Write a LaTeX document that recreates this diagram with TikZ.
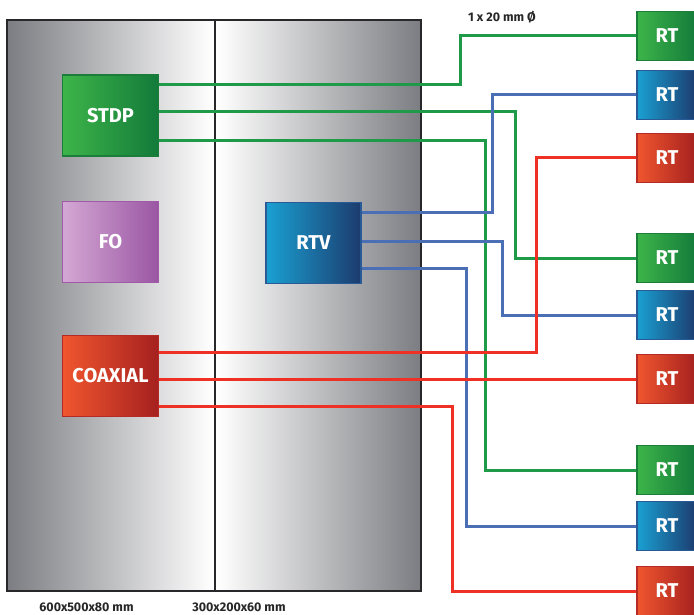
\documentclass[tikz,border=0pt]{standalone}
\usepackage{fontspec}
\setmainfont{Fira Sans}
\usepackage{tikz}
\usetikzlibrary{positioning}
\definecolor{cabgray}{RGB}{124,125,130}
\definecolor{cabedge}{RGB}{40,40,42}
\definecolor{greenlight}{RGB}{61,181,73}
\definecolor{greendark}{RGB}{19,122,58}
\definecolor{greenedge}{RGB}{27,125,58}
\definecolor{bluelight}{RGB}{26,160,210}
\definecolor{bluedark}{RGB}{28,59,110}
\definecolor{blueedge}{RGB}{42,90,150}
\definecolor{redlight}{RGB}{240,86,46}
\definecolor{reddark}{RGB}{165,32,31}
\definecolor{rededge}{RGB}{181,42,36}
\definecolor{purplelight}{RGB}{212,168,212}
\definecolor{purpledark}{RGB}{154,86,163}
\definecolor{purpleedge}{RGB}{160,90,168}
\definecolor{gwire}{RGB}{31,154,72}
\definecolor{bwire}{RGB}{74,111,181}
\definecolor{rwire}{RGB}{238,49,36}

\begin{document}
\begin{tikzpicture}[x=1pt,y=-1pt,
    box/.style={draw=#1edge,line width=1.2pt,left color=#1light,right color=#1dark,
      text=white,font=\fontsize{20}{24}\bfseries\selectfont,inner sep=0pt,
      minimum width=96pt,minimum height=81pt},
    rtbox/.style={box=#1,minimum width=60pt,minimum height=49pt},
    wire/.style={line width=3pt,#1},
    dim/.style={font=\fontsize{12.5}{15}\bfseries\selectfont,text=black!85}]
  \useasboundingbox (0,0) rectangle (694,615);
  \shade[left color=cabgray,right color=white] (7,20) rectangle (213,591);
  \shade[left color=white,right color=cabgray] (217,20) rectangle (421,591);
  \draw[line width=1.5pt,cabedge] (7,20) rectangle (421,591);
  \draw[line width=1.5pt,cabedge] (215,20) -- (215,591);
  \node[box=green] (stdp) at (110.5,115.5) {STDP};
  \node[box=purple] (fo) at (110.5,242) {FO};
  \node[box=red] (coax) at (110.5,376) {COAXIAL};
  \node[box=blue,minimum width=95pt] (rtv) at (313.5,243) {RTV};
  \node[rtbox=green] (rtA) at (667,36) {RT};
  \node[rtbox=blue] (rtB) at (667,95) {RT};
  \node[rtbox=red] (rtC) at (667,158) {RT};
  \node[rtbox=green] (rtD) at (667,258) {RT};
  \node[rtbox=blue] (rtE) at (667,315) {RT};
  \node[rtbox=red] (rtF) at (667,379) {RT};
  \node[rtbox=green] (rtG) at (667,470) {RT};
  \node[rtbox=blue] (rtH) at (667,526) {RT};
  \node[rtbox=red] (rtI) at (667,591) {RT};
  \draw[wire=gwire] ([yshift=30.5pt]stdp.east) -- ++(301,0) |- (rtA);
  \draw[wire=gwire] ([yshift=3.5pt]stdp.east) -- ++(356,0) |- (rtD);
  \draw[wire=gwire] ([yshift=-25.5pt]stdp.east) -- ++(326,0) |- (rtG);
  \draw[wire=bwire] ([yshift=30pt]rtv.east) -- ++(131,0) |- (rtB);
  \draw[wire=bwire] ([yshift=2pt]rtv.east) -- ++(141,0) |- (rtE);
  \draw[wire=bwire] ([yshift=-25pt]rtv.east) -- ++(105,0) |- (rtH);
  \draw[wire=rwire] ([yshift=24pt]coax.east) -- ++(377,0) |- (rtC);
  \draw[wire=rwire] ([yshift=-3pt]coax.east) -- (rtF);
  \draw[wire=rwire] ([yshift=-30pt]coax.east) -- ++(293,0) |- (rtI);
  \node[dim] (dia) at (502,17) {1 x 20 mm Ø};
  \node[dim] (dimA) at (86.5,607) {600x500x80 mm};
  \node[dim] (dimB) at (239,607) {300x200x60 mm};
\end{tikzpicture}
\end{document}
